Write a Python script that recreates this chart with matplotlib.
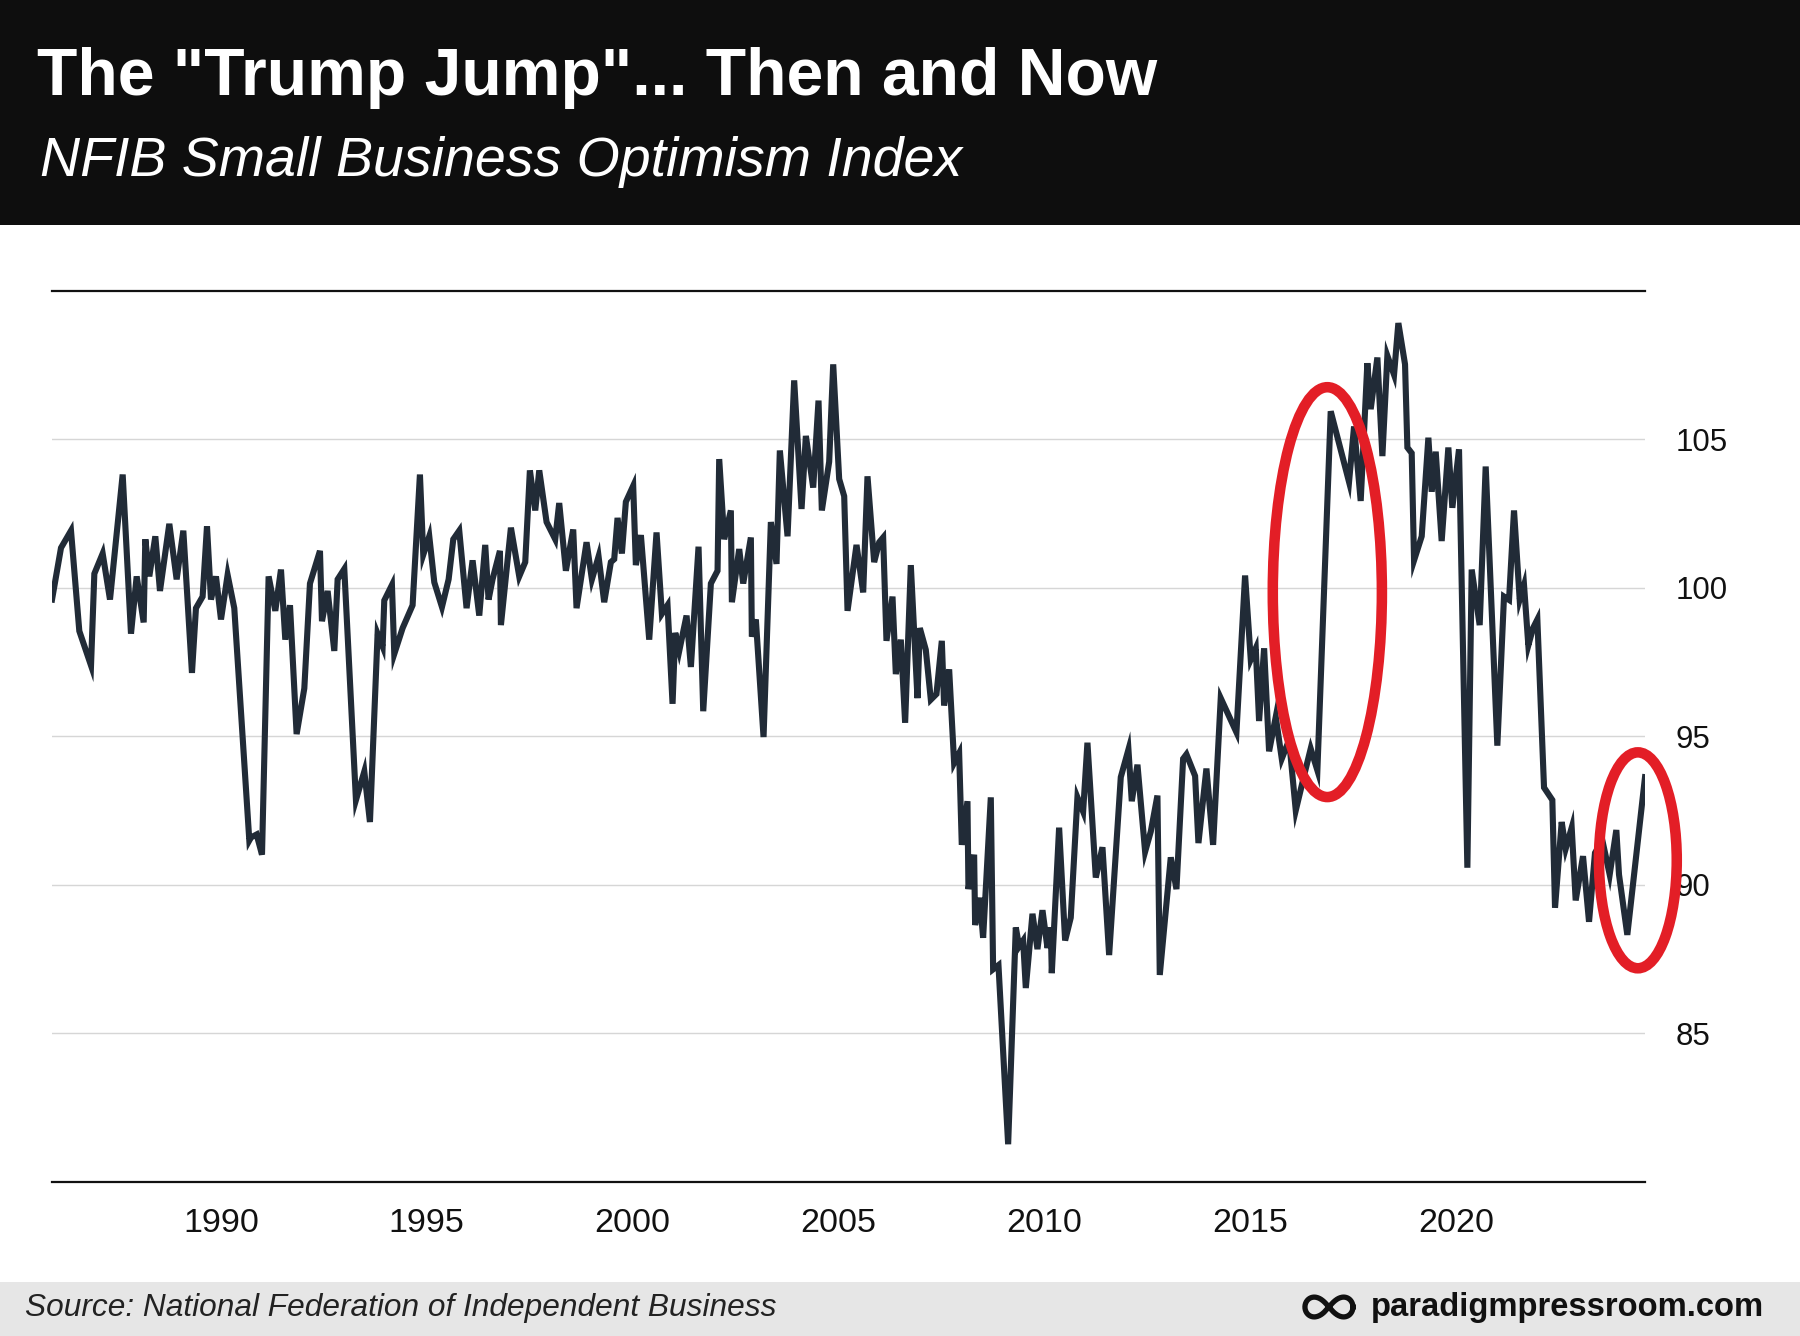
import matplotlib
matplotlib.use("Agg")
import matplotlib.pyplot as plt
import numpy as np
from matplotlib import patches
from matplotlib.lines import Line2D

# NFIB Small Business Optimism Index
years = [
    1985.898, 1986.116, 1986.359, 1986.561, 1986.845, 1986.926, 1987.128, 1987.306,
    1987.614, 1987.816, 1987.954, 1988.124, 1988.164, 1988.261, 1988.407, 1988.520,
    1988.747, 1988.925, 1989.087, 1989.297, 1989.394, 1989.556, 1989.662, 1989.759,
    1989.880, 1990.002, 1990.163, 1990.325, 1990.690, 1990.730, 1990.868, 1990.998,
    1991.159, 1991.321, 1991.459, 1991.564, 1991.678, 1991.839, 1992.026, 1992.163,
    1992.406, 1992.455, 1992.592, 1992.754, 1992.835, 1992.997, 1993.280, 1993.483,
    1993.620, 1993.806, 1993.928, 1993.968, 1994.154, 1994.211, 1994.414, 1994.656,
    1994.834, 1994.915, 1995.061, 1995.183, 1995.369, 1995.531, 1995.644, 1995.789,
    1995.967, 1996.113, 1996.275, 1996.420, 1996.501, 1996.598, 1996.777, 1996.801,
    1997.044, 1997.246, 1997.392, 1997.505, 1997.635, 1997.732, 1997.910, 1998.120,
    1998.217, 1998.379, 1998.557, 1998.638, 1998.881, 1999.011, 1999.173, 1999.310,
    1999.472, 1999.553, 1999.634, 1999.739, 1999.836, 2000.014, 2000.079, 2000.201,
    2000.403, 2000.581, 2000.711, 2000.848, 2000.970, 2001.035, 2001.132, 2001.310,
    2001.415, 2001.601, 2001.715, 2001.901, 2002.063, 2002.103, 2002.225, 2002.386,
    2002.411, 2002.589, 2002.686, 2002.872, 2002.896, 2002.993, 2003.180, 2003.358,
    2003.495, 2003.576, 2003.763, 2003.924, 2004.103, 2004.208, 2004.386, 2004.515,
    2004.596, 2004.774, 2004.872, 2005.017, 2005.139, 2005.220, 2005.438, 2005.600,
    2005.705, 2005.867, 2005.989, 2006.085, 2006.166, 2006.312, 2006.393, 2006.514,
    2006.619, 2006.757, 2006.919, 2006.976, 2007.121, 2007.243, 2007.380, 2007.510,
    2007.566, 2007.688, 2007.809, 2007.931, 2007.995, 2008.133, 2008.157, 2008.295,
    2008.319, 2008.432, 2008.513, 2008.700, 2008.756, 2008.886, 2009.121, 2009.307,
    2009.388, 2009.485, 2009.550, 2009.712, 2009.833, 2009.955, 2010.076, 2010.157,
    2010.181, 2010.359, 2010.505, 2010.642, 2010.804, 2010.942, 2011.047, 2011.250,
    2011.412, 2011.574, 2011.857, 2012.043, 2012.124, 2012.262, 2012.448, 2012.586,
    2012.747, 2012.804, 2013.071, 2013.209, 2013.371, 2013.452, 2013.662, 2013.743,
    2013.937, 2014.099, 2014.285, 2014.666, 2014.876, 2015.014, 2015.135, 2015.216,
    2015.338, 2015.459, 2015.621, 2015.767, 2015.945, 2016.107, 2016.333, 2016.470,
    2016.632, 2016.956, 2017.401, 2017.523, 2017.684, 2017.846, 2017.927, 2018.089,
    2018.211, 2018.332, 2018.494, 2018.599, 2018.761, 2018.818, 2018.923, 2018.980,
    2019.166, 2019.328, 2019.409, 2019.506, 2019.651, 2019.813, 2019.910, 2020.072,
    2020.275, 2020.380, 2020.574, 2020.720, 2021.003, 2021.165, 2021.287, 2021.408,
    2021.546, 2021.651, 2021.756, 2021.870, 2021.975, 2022.137, 2022.339, 2022.404,
    2022.566, 2022.663, 2022.809, 2022.906, 2023.084, 2023.230, 2023.375, 2023.554,
    2023.732, 2023.893, 2023.958, 2024.160, 2024.590,
]
index_values = [
    99.61, 101.35, 101.93, 98.55, 97.39, 100.48, 101.16, 99.61,
    103.82, 98.46, 100.39, 98.84, 101.64, 100.39, 101.74, 99.90,
    102.16, 100.29, 101.93, 97.14, 99.32, 99.71, 102.08, 99.61,
    100.39, 98.94, 100.44, 99.32, 91.50, 91.60, 91.70, 91.02,
    100.39, 99.23, 100.62, 98.26, 99.42, 95.08, 96.62, 100.15,
    101.25, 98.88, 99.90, 97.88, 100.29, 100.64, 92.86, 93.82,
    92.12, 98.46, 98.03, 99.58, 100.10, 97.78, 98.65, 99.42,
    103.82, 101.12, 101.74, 100.19, 99.36, 100.29, 101.64, 101.93,
    99.32, 100.93, 99.07, 101.45, 99.61, 100.29, 101.25, 98.75,
    102.03, 100.39, 100.87, 103.96, 102.61, 103.96, 102.22, 101.64,
    102.86, 100.58, 101.97, 99.32, 101.54, 100.29, 101.06, 99.52,
    100.87, 100.97, 102.36, 101.16, 102.90, 103.44, 100.77, 101.78,
    98.26, 101.87, 99.13, 99.42, 96.10, 98.49, 97.88, 99.07,
    97.34, 101.39, 95.85, 100.15, 100.58, 104.34, 101.64, 102.61,
    99.52, 101.31, 100.15, 101.70, 98.36, 98.94, 94.98, 102.22,
    100.81, 104.63, 101.74, 106.99, 102.66, 105.12, 103.38, 106.31,
    102.61, 104.25, 107.53, 103.67, 103.09, 99.23, 101.45, 99.85,
    103.76, 100.87, 101.54, 101.70, 98.22, 99.71, 97.10, 98.26,
    95.46, 100.77, 96.29, 98.65, 97.92, 96.24, 96.43, 98.22,
    96.04, 97.26, 94.11, 94.44, 91.35, 92.82, 89.86, 91.02,
    88.65, 89.57, 88.22, 92.95, 87.16, 87.30, 81.27, 88.57,
    87.93, 88.13, 86.53, 89.03, 87.84, 89.15, 87.88, 88.57,
    87.03, 91.93, 88.13, 88.90, 92.95, 92.47, 94.79, 90.25,
    91.27, 87.64, 93.63, 94.56, 92.82, 94.05, 91.12, 91.80,
    93.01, 86.97, 90.93, 89.86, 94.25, 94.40, 93.67, 91.41,
    93.92, 91.35, 96.29, 95.14, 100.42, 97.59, 97.97, 95.52,
    97.97, 94.50, 95.66, 94.25, 94.88, 92.51, 93.82, 94.59,
    93.86, 105.95, 103.57, 105.44, 102.93, 107.57, 106.02, 107.76,
    104.44, 107.82, 107.18, 108.92, 107.53, 104.73, 104.54, 100.93,
    101.74, 105.06, 103.24, 104.59, 101.58, 104.73, 102.70, 104.67,
    90.58, 100.62, 98.75, 104.09, 94.69, 99.71, 99.60, 102.61,
    99.61, 100.10, 98.07, 98.65, 98.94, 93.28, 92.86, 89.23,
    92.12, 91.22, 91.93, 89.48, 90.97, 88.76, 91.08, 91.50,
    90.35, 91.85, 90.35, 88.32, 93.63,
]

# red circles: (centre year, centre value, width in years, height in points)
circles = [
    (2016.874, 99.86, 2.65, 13.8),
    (2024.416, 90.83, 1.89, 7.27),
]

x_ticks = [1990, 1995, 2000, 2005, 2010, 2015, 2020]
y_ticks = [85, 90, 95, 100, 105]

title = 'The "Trump Jump"... Then and Now'
subtitle = "NFIB Small Business Optimism Index"
source = "Source: National Federation of Independent Business"
brand = "paradigmpressroom.com"

line_color = "#212b37"
red = "#e31e26"

plt.rcParams["font.family"] = ["Liberation Sans", "DejaVu Sans"]

fig = plt.figure(figsize=(18, 13.36), dpi=100)
fig.patch.set_facecolor("white")

# header band and footer band
fig.patches.append(patches.Rectangle((0, 0.8316), 1, 0.1684, transform=fig.transFigure,
                                     facecolor="#0e0e0e", edgecolor="none", zorder=0))
fig.patches.append(patches.Rectangle((0, 0), 1, 0.0404, transform=fig.transFigure,
                                     facecolor="#e6e6e6", edgecolor="none", zorder=0))

fig.text(0.0206, 0.929, title, color="white", fontsize=47.5, fontweight="bold", va="baseline")
fig.text(0.022, 0.8686, subtitle, color="white", fontsize=40, fontstyle="italic", va="baseline")
fig.text(0.0139, 0.0213, source, color="#222222", fontsize=22.8, fontstyle="italic", va="center")
fig.text(0.98, 0.0213, brand, color="#111111", fontsize=23.6, fontweight="bold",
         va="center", ha="right")

# infinity logo drawn as a lemniscate next to the site name
t = np.linspace(0, 2 * np.pi, 200)
lx = np.cos(t) / (1 + np.sin(t) ** 2)
ly = np.sin(t) * np.cos(t) / (1 + np.sin(t) ** 2)
fig.lines.append(Line2D(0.7383 + lx * 24 / 1800, 0.0217 + ly * 28 / 1336,
                        transform=fig.transFigure, color="#111111", linewidth=3.8))

ax = fig.add_axes([0.0289, 0.1153, 0.885, 0.6669])
ax.plot(years, index_values, color=line_color, linewidth=4.4, solid_joinstyle="miter", zorder=3)

for cx, cy, w, h in circles:
    ell = patches.Ellipse((cx, cy), w, h, fill=False, edgecolor=red, linewidth=7.6,
                          clip_on=False, zorder=10)
    ax.add_patch(ell)

ax.set_xlim(min(years), max(years))
ax.set_ylim(80, 110)
ax.set_xticks(x_ticks)
ax.set_xticklabels([str(t) for t in x_ticks])
ax.set_yticks(y_ticks)
ax.yaxis.tick_right()
ax.tick_params(axis="x", length=0, pad=19, labelsize=24.5, colors="#111111")
ax.tick_params(axis="y", length=0, pad=22, labelsize=22.5, colors="#111111")
ax.grid(axis="y", color="#d6d6d6", linewidth=1)
ax.set_axisbelow(True)

for side in ["left", "right"]:
    ax.spines[side].set_visible(False)
for side in ["top", "bottom"]:
    ax.spines[side].set_color("#111111")
    ax.spines[side].set_linewidth(1.6)

fig.savefig("out.png", dpi=100)
